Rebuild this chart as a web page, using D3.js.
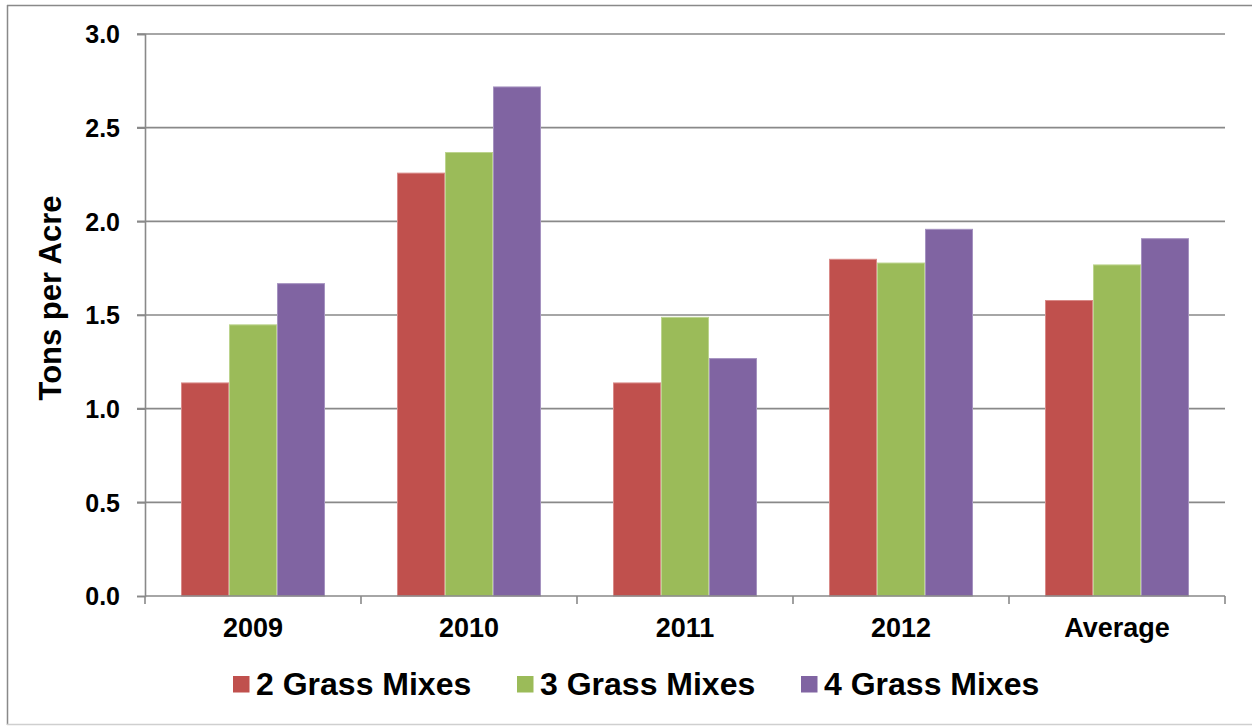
<!DOCTYPE html>
<html>
<head>
<meta charset="utf-8">
<script src="https://cdn.jsdelivr.net/npm/d3@7"></script>
<style>
  html, body { margin: 0; padding: 0; background: #fff; }
  svg { display: block; }
  text { font-family: "Liberation Sans", Arial, sans-serif; font-weight: bold; fill: #000; }
</style>
</head>
<body>
<svg id="chart" width="1252" height="726"></svg>
<script>
// Forage yield by number of grasses in the mix
const categories = ["2009", "2010", "2011", "2012", "Average"];
const seriesNames = ["2 Grass Mixes", "3 Grass Mixes", "4 Grass Mixes"];
const twoGrass   = [1.14, 2.26, 1.14, 1.80, 1.58];
const threeGrass = [1.45, 2.37, 1.49, 1.78, 1.77];
const fourGrass  = [1.67, 2.72, 1.27, 1.96, 1.91];
const yTicks = [0, 0.5, 1.0, 1.5, 2.0, 2.5, 3.0];
const colors = ["#C0504D", "#9BBB59", "#8064A2"];
const strokes = ["#D98A88", "#BCD48E", "#A592C0"];

const series = [twoGrass, threeGrass, fourGrass];

const svg = d3.select("#chart");
const W = 1252, H = 726;
const plot = { left: 145, right: 1225, top: 34, bottom: 596 };
const axisColor = "#898989";

// chart frame
svg.append("line").attr("x1", 7.5).attr("x2", 7.5).attr("y1", 5).attr("y2", 725)
  .attr("stroke", axisColor).attr("stroke-width", 1.5);
svg.append("line").attr("x1", 7).attr("x2", W).attr("y1", 5.5).attr("y2", 5.5)
  .attr("stroke", axisColor).attr("stroke-width", 1.5);
svg.append("line").attr("x1", 7).attr("x2", W).attr("y1", 724.5).attr("y2", 724.5)
  .attr("stroke", "#cfcfcf").attr("stroke-width", 1.5);

const x0 = d3.scaleBand().domain(categories).range([plot.left, plot.right])
  .paddingInner(0).paddingOuter(0);
const x1 = d3.scaleBand().domain(d3.range(series.length))
  .range([0, x0.bandwidth()]).paddingOuter(36 / 48).paddingInner(0);
const y = d3.scaleLinear().domain([0, 3]).range([plot.bottom, plot.top]);

// horizontal gridlines with left tick marks
svg.append("g").selectAll("line").data(yTicks.filter(d => d > 0)).join("line")
  .attr("x1", plot.left - 8).attr("x2", plot.right)
  .attr("y1", d => y(d)).attr("y2", d => y(d))
  .attr("stroke", axisColor).attr("stroke-width", 1.6);

// y axis
const yAxis = d3.axisLeft(y).tickValues(yTicks).tickFormat(d3.format(".1f"))
  .tickSize(8).tickPadding(17);
const gy = svg.append("g").attr("transform", `translate(${plot.left},0)`).call(yAxis);
gy.select(".domain").attr("stroke", axisColor).attr("stroke-width", 1.6);
gy.selectAll(".tick line").attr("stroke", axisColor).attr("stroke-width", 1.6);
gy.selectAll(".tick text").attr("font-size", 25).attr("font-family", null)
  .attr("font-weight", "bold").attr("fill", "#000").attr("dy", "0.35em");

// bars
const groups = svg.append("g").selectAll("g").data(categories).join("g")
  .attr("transform", d => `translate(${x0(d)},0)`);
groups.selectAll("rect")
  .data((c, i) => series.map((s, k) => ({ k, v: s[i] })))
  .join("rect")
  .attr("x", d => x1(d.k) + 0.5)
  .attr("width", x1.bandwidth() - 1)
  .attr("y", d => y(d.v) + 0.5)
  .attr("height", d => y(0) - y(d.v) - 0.5)
  .attr("fill", d => colors[d.k])
  .attr("stroke", d => strokes[d.k])
  .attr("stroke-width", 1);

// x axis with boundary ticks
const gx = svg.append("g").attr("transform", `translate(0,${plot.bottom})`);
gx.append("line").attr("x1", plot.left).attr("x2", plot.right).attr("y1", 0).attr("y2", 0)
  .attr("stroke", axisColor).attr("stroke-width", 1.6);
const boundaries = categories.map(c => x0(c)).concat([x0(categories[categories.length - 1]) + x0.bandwidth()]);
gx.selectAll("line.tk").data(boundaries).join("line").attr("class", "tk")
  .attr("x1", d => d).attr("x2", d => d).attr("y1", 0).attr("y2", 8)
  .attr("stroke", axisColor).attr("stroke-width", 1.6);
gx.selectAll("text").data(categories).join("text")
  .attr("x", d => x0(d) + x0.bandwidth() / 2)
  .attr("y", 41)
  .attr("text-anchor", "middle")
  .attr("font-size", 27)
  .text(d => d);

// y axis title
svg.append("text")
  .attr("transform", `translate(61,298) rotate(-90)`)
  .attr("text-anchor", "middle")
  .attr("font-size", 31)
  .text("Tons per Acre");

// legend
const legendX = [233, 517, 801];
const lg = svg.append("g").selectAll("g").data(seriesNames).join("g")
  .attr("transform", (d, i) => `translate(${legendX[i]},676)`);
lg.append("rect").attr("width", 16.5).attr("height", 16.5).attr("fill", (d, i) => colors[i]);
lg.append("text").attr("x", 23).attr("y", 18.5).attr("font-size", 32).text(d => d);
</script>
</body>
</html>
